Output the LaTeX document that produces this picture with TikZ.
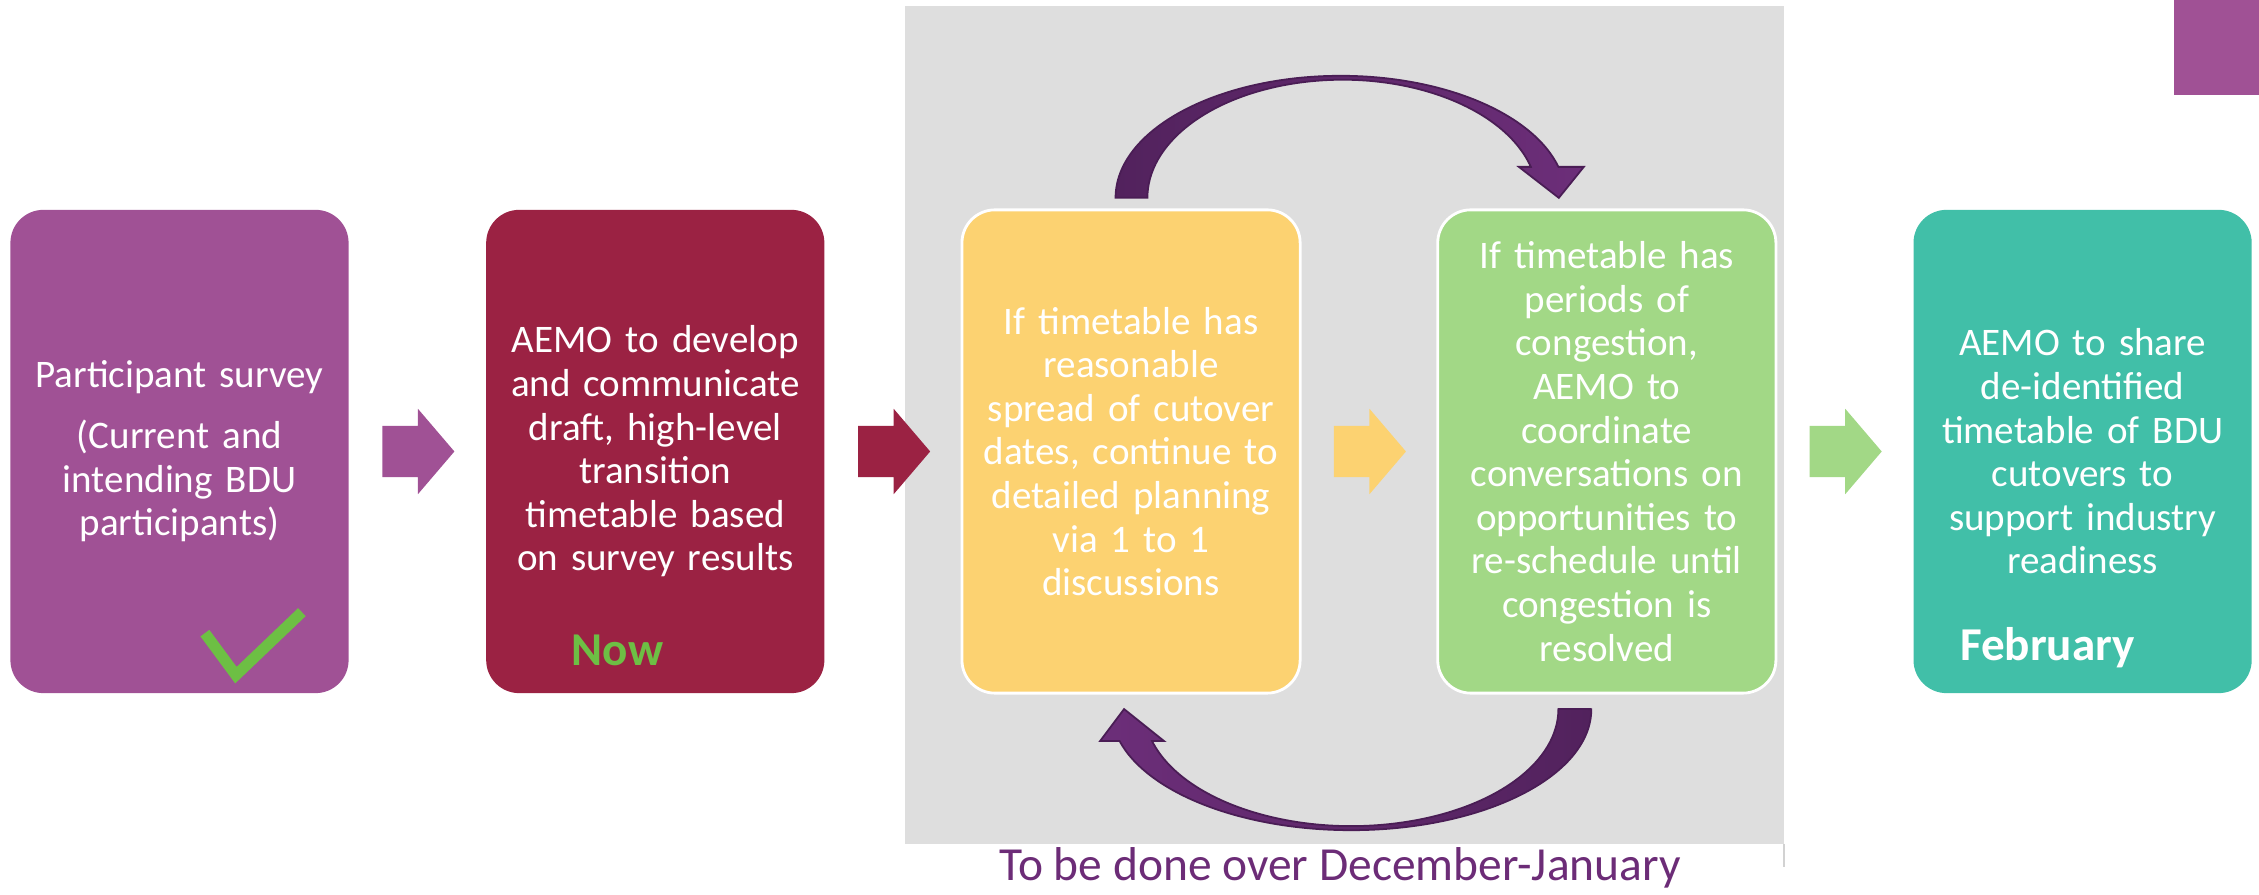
\documentclass[tikz,border=0pt]{standalone}
\usepackage{fontspec}
\setmainfont{Carlito}
\usepackage{tikz}
\usetikzlibrary{positioning,calc,shapes.arrows}
\pgfdeclarelayer{background}
\pgfdeclarelayer{foreground}
\pgfsetlayers{background,main,foreground}
\definecolor{survcol}{HTML}{A05195}
\definecolor{draftcol}{HTML}{9B2243}
\definecolor{spreadcol}{HTML}{FCD271}
\definecolor{congcol}{HTML}{A2D886}
\definecolor{sharecol}{HTML}{41BFA8}
\definecolor{panelgray}{HTML}{DEDEDE}
\definecolor{paneledge}{HTML}{D2D2D2}
\definecolor{loopdark}{HTML}{52225D}
\definecolor{looplight}{HTML}{6C2E79}
\definecolor{loopedge}{HTML}{4A1D55}
\definecolor{tickgreen}{HTML}{6DBF44}
\definecolor{captioncol}{HTML}{6C2C77}
\tikzset{
  box/.style={rectangle, rounded corners=0.33cm, minimum width=3.38cm, minimum height=4.83cm,
    text width=3.2cm, align=center, text=white, inner sep=0, outer sep=0,
    font=\fontsize{11.1}{12.4}\selectfont},
  rim/.style={draw=white, line width=0.8pt},
  blockarr/.style={single arrow, minimum height=0.72cm, inner xsep=0, inner ysep=0.25cm,
    single arrow head extend=0.17cm, single arrow tip angle=99, outer sep=0, xshift=-0.1cm},
  looparr/.style={draw=loopedge, line width=0.5pt},
  tick/.style={draw=tickgreen, line width=0.11cm, line join=miter},
  datelabel/.style={anchor=base west, inner sep=0, font=\bfseries\fontsize{13.4}{16}\selectfont}
}

\begin{document}
\begin{tikzpicture}[x=0.01cm,y=-0.01cm]
\useasboundingbox (0,0) rectangle (2259,895);
\node[box, fill=survcol] (survey) at (179.5,451.5) {Participant survey\\[0.17cm] (Current and\\ intending BDU\\ participants)};
\node[box, fill=draftcol, right=1.375cm of survey] (draft) {AEMO to develop\\ and communicate\\ draft, high-level\\ transition\\ timetable based\\ on survey results};
\node[box, rim, fill=spreadcol, right=1.375cm of draft] (spread) {If timetable has\\ reasonable\\ spread of cutover\\ dates, continue to\\ detailed planning\\ via 1 to 1\\ discussions};
\node[box, rim, fill=congcol, right=1.375cm of spread] (congest) {If timetable has\\ periods of\\ congestion,\\ AEMO to\\ coordinate\\ conversations on\\ opportunities to\\ re-schedule until\\ congestion is\\ resolved};
\node[box, fill=sharecol, right=1.375cm of congest] (share) {AEMO to share\\ de-identified\\ timetable of BDU\\ cutovers to\\ support industry\\ readiness};

\node[blockarr, fill=survcol] (ar1) at ($(survey.east)!0.5!(draft.west)$) {};
\node[blockarr, fill=draftcol] (ar2) at ($(draft.east)!0.5!(spread.west)$) {};
\node[blockarr, fill=spreadcol] (ar3) at ($(spread.east)!0.5!(congest.west)$) {};
\node[blockarr, fill=congcol] (ar4) at ($(congest.east)!0.5!(share.west)$) {};

\node[datelabel, text=tickgreen] (now) at ($(draft.south west)+(85,-28)$) {Now};
\node[datelabel, text=white] (feb) at ($(share.south west)+(46,-33)$) {February};
\draw[tick] ($(survey.south west)+(194.5,-60)$) -- ++(31,42) -- ++(66,-63);

\begin{pgfonlayer}{foreground}
\path[looparr, left color=loopdark, right color=looplight]
  ($(spread.north)+(-15.5,-12)$) arc[start angle=180, end angle=14.7, x radius=2.25cm, y radius=1.22cm]
  -- ++(25.4,0) -- ++(-25,31) -- ++(-40,-31) -- ++(12,0)
  arc[start angle=15.2, end angle=180, x radius=1.95cm, y radius=1.18cm] -- cycle;
\path[looparr, left color=looplight, right color=loopdark]
  ($(congest.south)+(-15.5,16)$) arc[start angle=0, end angle=-164.7, x radius=2.40cm, y radius=1.21cm]
  -- ++(-19.5,0) -- ++(24,-32) -- ++(40,32) -- ++(-12,0)
  arc[start angle=-164.1, end angle=0, x radius=2.07cm, y radius=1.17cm] -- cycle;
\end{pgfonlayer}

\begin{pgfonlayer}{background}
\fill[panelgray] (905,6) rectangle (1784,844);
\draw[paneledge, line width=0.4pt] (1784,844) -- (1784,867);
\fill[survcol] (2174,0) rectangle (2259,95);
\end{pgfonlayer}
\node[anchor=base, text=captioncol, inner sep=0, font=\fontsize{13.5}{16}\selectfont] (caption) at (1340,881) {To be done over December-January};
\end{tikzpicture}
\end{document}
